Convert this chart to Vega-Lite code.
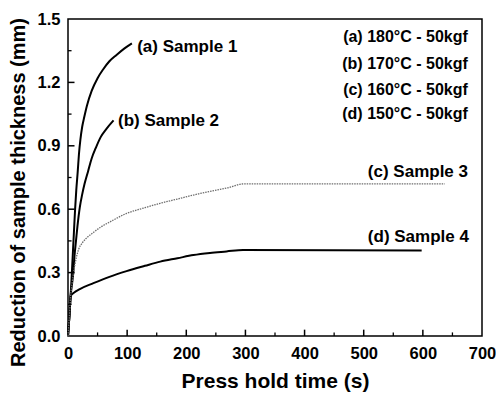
{
  "$schema": "https://vega.github.io/schema/vega-lite/v6.json",
  "width": 414,
  "height": 317,
  "autosize": {"type": "none"},
  "padding": {"left": 68, "top": 19, "right": 14, "bottom": 60},
  "background": "white",
  "config": {
    "view": {"stroke": "black", "strokeWidth": 1.5},
    "font": "Liberation Sans",
    "axis": {
      "labelFont": "Liberation Sans",
      "labelFontWeight": "bold",
      "labelFontSize": 16.5,
      "labelColor": "black",
      "titleFont": "Liberation Sans",
      "titleFontWeight": "bold",
      "titleFontSize": 21,
      "titleColor": "black",
      "domain": false,
      "grid": false
    }
  },
  "datasets": {
    "curves": [
      {"s": "a", "t": 0, "v": 0}, {"s": "a", "t": 2, "v": 0.08}, {"s": "a", "t": 4, "v": 0.17}, {"s": "a", "t": 6, "v": 0.27},
      {"s": "a", "t": 8, "v": 0.38}, {"s": "a", "t": 10, "v": 0.49}, {"s": "a", "t": 12, "v": 0.6}, {"s": "a", "t": 14, "v": 0.69},
      {"s": "a", "t": 16.5, "v": 0.78}, {"s": "a", "t": 18.5, "v": 0.86}, {"s": "a", "t": 21, "v": 0.93}, {"s": "a", "t": 24, "v": 0.99},
      {"s": "a", "t": 27, "v": 1.03}, {"s": "a", "t": 32, "v": 1.09}, {"s": "a", "t": 40, "v": 1.16}, {"s": "a", "t": 50, "v": 1.22},
      {"s": "a", "t": 59, "v": 1.26}, {"s": "a", "t": 70, "v": 1.3}, {"s": "a", "t": 82, "v": 1.33}, {"s": "a", "t": 95, "v": 1.36},
      {"s": "a", "t": 108, "v": 1.385},
      {"s": "b", "t": 0, "v": 0}, {"s": "b", "t": 2, "v": 0.08}, {"s": "b", "t": 4.5, "v": 0.19}, {"s": "b", "t": 7, "v": 0.25},
      {"s": "b", "t": 9, "v": 0.3}, {"s": "b", "t": 11, "v": 0.38}, {"s": "b", "t": 13.5, "v": 0.45}, {"s": "b", "t": 16, "v": 0.52},
      {"s": "b", "t": 20, "v": 0.61}, {"s": "b", "t": 24, "v": 0.67}, {"s": "b", "t": 28, "v": 0.72}, {"s": "b", "t": 34, "v": 0.78},
      {"s": "b", "t": 40, "v": 0.84}, {"s": "b", "t": 47, "v": 0.89}, {"s": "b", "t": 55, "v": 0.94}, {"s": "b", "t": 65, "v": 0.98},
      {"s": "b", "t": 77, "v": 1.02},
      {"s": "c", "t": 0, "v": 0}, {"s": "c", "t": 2, "v": 0.08}, {"s": "c", "t": 4.5, "v": 0.19}, {"s": "c", "t": 7, "v": 0.25},
      {"s": "c", "t": 10, "v": 0.31}, {"s": "c", "t": 14, "v": 0.37}, {"s": "c", "t": 18, "v": 0.41}, {"s": "c", "t": 24, "v": 0.44},
      {"s": "c", "t": 30, "v": 0.46}, {"s": "c", "t": 43, "v": 0.49}, {"s": "c", "t": 55, "v": 0.515}, {"s": "c", "t": 71, "v": 0.54},
      {"s": "c", "t": 99, "v": 0.58}, {"s": "c", "t": 130, "v": 0.607}, {"s": "c", "t": 156, "v": 0.628}, {"s": "c", "t": 185, "v": 0.648},
      {"s": "c", "t": 212, "v": 0.667}, {"s": "c", "t": 240, "v": 0.684}, {"s": "c", "t": 268, "v": 0.7}, {"s": "c", "t": 298, "v": 0.72},
      {"s": "c", "t": 637, "v": 0.72},
      {"s": "d", "t": 0, "v": 0}, {"s": "d", "t": 2, "v": 0.08}, {"s": "d", "t": 4.5, "v": 0.19}, {"s": "d", "t": 10, "v": 0.205},
      {"s": "d", "t": 20, "v": 0.222}, {"s": "d", "t": 43, "v": 0.25}, {"s": "d", "t": 70, "v": 0.28}, {"s": "d", "t": 99, "v": 0.307},
      {"s": "d", "t": 130, "v": 0.332}, {"s": "d", "t": 156, "v": 0.352}, {"s": "d", "t": 185, "v": 0.368}, {"s": "d", "t": 212, "v": 0.383},
      {"s": "d", "t": 240, "v": 0.393}, {"s": "d", "t": 268, "v": 0.4}, {"s": "d", "t": 296, "v": 0.407}, {"s": "d", "t": 598, "v": 0.405}
    ],
    "labels": [
      {"label": "(a) Sample 1", "t": 117, "v": 1.368},
      {"label": "(b) Sample 2", "t": 84.5, "v": 1.018},
      {"label": "(c) Sample 3", "t": 507, "v": 0.776},
      {"label": "(d) Sample 4", "t": 507, "v": 0.469}
    ],
    "legend": [
      {"label": "(a) 180°C - 50kgf", "t": 676, "v": 1.415},
      {"label": "(b) 170°C - 50kgf", "t": 676, "v": 1.288},
      {"label": "(c) 160°C - 50kgf", "t": 676, "v": 1.164},
      {"label": "(d) 150°C - 50kgf", "t": 676, "v": 1.049}
    ],
    "xmajor": [{"t": 100}, {"t": 200}, {"t": 300}, {"t": 400}, {"t": 500}, {"t": 600}],
    "xminor": [{"t": 50}, {"t": 150}, {"t": 250}, {"t": 350}, {"t": 450}, {"t": 550}, {"t": 650}],
    "ymajor": [{"v": 0.3}, {"v": 0.6}, {"v": 0.9}, {"v": 1.2}],
    "yminor": [{"v": 0.15}, {"v": 0.45}, {"v": 0.75}, {"v": 1.05}, {"v": 1.35}]
  },
  "resolve": {"axis": {"x": "independent", "y": "independent"}},
  "layer": [
    {
      "data": {"name": "curves"},
      "transform": [{"filter": "datum.s !== 'c'"}],
      "mark": {"type": "line", "color": "black", "strokeWidth": 2, "interpolate": "monotone"},
      "encoding": {
        "x": {"field": "t", "type": "quantitative", "scale": {"domain": [0, 700], "nice": false},
          "axis": {"title": "Press hold time (s)", "values": [0, 100, 200, 300, 400, 500, 600, 700], "ticks": false, "labelPadding": 9, "titlePadding": 9, "labelFlush": false}},
        "y": {"field": "v", "type": "quantitative", "scale": {"domain": [0, 1.5], "nice": false},
          "axis": {"title": "Reduction of sample thickness (mm)", "titleFontSize": 20, "titleY": 173, "titleAlign": "center", "values": [0, 0.3, 0.6, 0.9, 1.2, 1.5], "format": ".1f", "ticks": false, "labelPadding": 8, "titlePadding": 9, "labelFlush": false}},
        "detail": {"field": "s"}
      }
    },
    {
      "data": {"name": "curves"},
      "transform": [{"filter": "datum.s === 'c'"}],
      "mark": {"type": "line", "color": "#6e6e6e", "strokeWidth": 1.3, "strokeDash": [1.5, 1], "interpolate": "monotone"},
      "encoding": {
        "x": {"field": "t", "type": "quantitative", "axis": null},
        "y": {"field": "v", "type": "quantitative", "axis": null}
      }
    },
    {
      "data": {"name": "xmajor"},
      "mark": {"type": "rule", "color": "black", "strokeWidth": 1.5},
      "encoding": {
        "x": {"field": "t", "type": "quantitative", "axis": null},
        "y": {"datum": 0, "type": "quantitative", "axis": null},
        "y2": {"datum": 0.03}
      }
    },
    {
      "data": {"name": "xminor"},
      "mark": {"type": "rule", "color": "black", "strokeWidth": 1.3},
      "encoding": {
        "x": {"field": "t", "type": "quantitative", "axis": null},
        "y": {"datum": 0, "type": "quantitative", "axis": null},
        "y2": {"datum": 0.017}
      }
    },
    {
      "data": {"name": "ymajor"},
      "mark": {"type": "rule", "color": "black", "strokeWidth": 1.5},
      "encoding": {
        "y": {"field": "v", "type": "quantitative", "axis": null},
        "x": {"datum": 0, "type": "quantitative", "axis": null},
        "x2": {"datum": 11}
      }
    },
    {
      "data": {"name": "yminor"},
      "mark": {"type": "rule", "color": "black", "strokeWidth": 1.3},
      "encoding": {
        "y": {"field": "v", "type": "quantitative", "axis": null},
        "x": {"datum": 0, "type": "quantitative", "axis": null},
        "x2": {"datum": 6}
      }
    },
    {
      "data": {"name": "labels"},
      "mark": {"type": "text", "align": "left", "baseline": "middle", "font": "Liberation Sans", "fontWeight": "bold", "fontSize": 17, "color": "black"},
      "encoding": {
        "x": {"field": "t", "type": "quantitative", "axis": null},
        "y": {"field": "v", "type": "quantitative", "axis": null},
        "text": {"field": "label"}
      }
    },
    {
      "data": {"name": "legend"},
      "mark": {"type": "text", "align": "right", "baseline": "middle", "font": "Liberation Sans", "fontWeight": "bold", "fontSize": 16, "color": "black"},
      "encoding": {
        "x": {"field": "t", "type": "quantitative", "axis": null},
        "y": {"field": "v", "type": "quantitative", "axis": null},
        "text": {"field": "label"}
      }
    }
  ]
}
